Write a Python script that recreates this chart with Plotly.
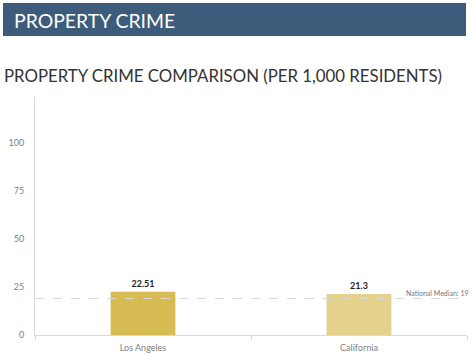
import plotly.graph_objects as go

categories = ["Los Angeles", "California"]
values = [22.51, 21.3]
value_labels = ["22.51", "21.3"]
bar_colors = ["#d7bc53", "#e4d18b"]
national_median = 19
y_ticks = [0, 25, 50, 75, 100]

W, H = 474, 360
L, R, T, B = 35, 7, 97, 25
pw = W - L - R
ph = H - T - B

def px(x):
    return (x - L) / pw

def py(y):
    return (H - B - y) / ph

fig = go.Figure()
fig.add_trace(go.Bar(
    x=categories, y=values, marker=dict(color=bar_colors, line=dict(width=0)),
    text=value_labels, textposition="outside", cliponaxis=False,
    textfont=dict(family="Lato", size=9, color="#222"),
    texttemplate="<b>%{text}</b>", hoverinfo="skip",
))

fig.add_shape(type="rect", xref="paper", yref="paper",
              x0=px(3), x1=px(466), y0=py(3), y1=py(36),
              fillcolor="#3d5b7b", line=dict(width=0), layer="below")
fig.add_shape(type="line", xref="paper", yref="y", x0=0, x1=1,
              y0=national_median, y1=national_median,
              line=dict(color="#d9d9d9", width=1, dash="dash"))

fig.add_annotation(xref="paper", yref="paper", x=px(12), y=py(20),
                   xanchor="left", yanchor="middle", showarrow=False,
                   text="PROPERTY CRIME",
                   font=dict(family="Lato", size=19.4, color="white"))
fig.add_annotation(xref="paper", yref="paper", x=px(2), y=py(75),
                   xanchor="left", yanchor="middle", showarrow=False,
                   text="PROPERTY CRIME COMPARISON (PER 1,000 RESIDENTS)",
                   font=dict(family="Lato", size=16.8, color="#333"))
fig.add_annotation(xref="paper", yref="y", x=px(471), y=national_median,
                   xanchor="right", yanchor="bottom", showarrow=False,
                   text="National Median: " + str(national_median), yshift=0,
                   font=dict(family="Lato", size=7, color="#777"))

fig.update_layout(
    width=W, height=H, margin=dict(l=L, r=R, t=T, b=B),
    paper_bgcolor="white", plot_bgcolor="white", showlegend=False,
    bargap=0.7, font=dict(family="Lato"),
    xaxis=dict(showline=True, linecolor="#d8d8d8", linewidth=1,
               ticks="outside", tickson="boundaries", ticklen=4,
               tickcolor="#d8d8d8", showgrid=False, ticklabelstandoff=4,
               tickfont=dict(family="Lato", size=9, color="#808080")),
    yaxis=dict(range=[0, 124], showline=True, linecolor="#d8d8d8",
               linewidth=1, showgrid=False, zeroline=False,
               tickvals=y_ticks, ticks="", ticklabelstandoff=8,
               tickfont=dict(family="Lato", size=9, color="#808080")),
)

fig.write_html("out.html", config={"displayModeBar": False},
               post_script="document.body.style.margin='0';")
